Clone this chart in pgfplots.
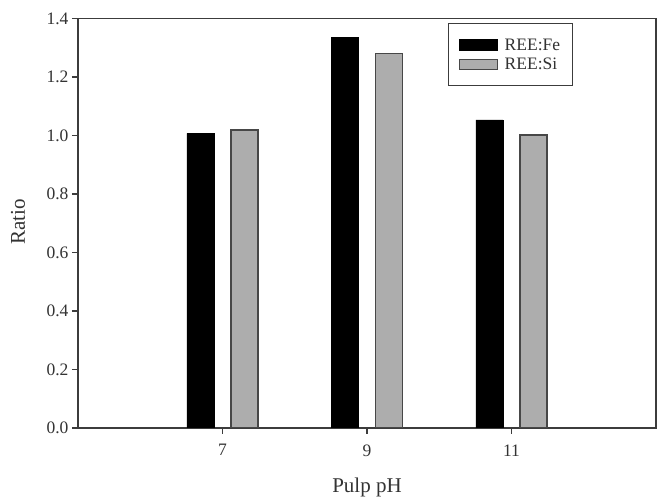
\documentclass[border=0pt]{standalone}
\usepackage{fontspec}
\setmainfont{Liberation Serif}
\usepackage{pgfplots}
\pgfplotsset{compat=1.18}
\definecolor{axisgray}{HTML}{3C3C3C}
\definecolor{barfill}{HTML}{ADADAD}
\definecolor{baredge}{HTML}{474747}
\begin{document}
\begin{tikzpicture}
\path[use as bounding box] (-78pt,-72pt) rectangle (579pt,428pt);
\begin{axis}[
  at={(0pt,0pt)}, anchor=south west,
  scale only axis, width=578pt, height=409.5pt,
  xmin=5, xmax=13, ymin=0, ymax=1.4,
  xtick={7,9,11}, ytick={0,0.2,0.4,0.6,0.8,1.0,1.2,1.4},
  yticklabel style={/pgf/number format/.cd, fixed, fixed zerofill, precision=1},
  /pgf/number format/assume math mode=true,
  axis line style={axisgray, line width=1.3pt},
  tick style={axisgray, line width=1.3pt},
  tick align=outside, major tick length=6pt,
  xtick pos=left, ytick pos=left,
  ybar, bar width=27pt,
  ticklabel style={font=\fontsize{17.5}{20}\selectfont, text=black!80},
  xticklabel style={yshift=-7pt},
  label style={font=\fontsize{21}{24}\selectfont, text=black!80},
  xlabel={Pulp pH}, ylabel={Ratio},
  xlabel style={at={(axis description cs:0.5,-0.1587)}, anchor=base},
  ylabel style={at={(axis description cs:-0.1038,0.503)}, anchor=center},
  legend style={at={(axis description cs:0.640,0.989)}, anchor=north west,
    draw=axisgray, line width=1.2pt, font=\fontsize{17.5}{20}\selectfont, text=black!80,
    inner xsep=10pt, inner ysep=13pt, row sep=2pt, column sep=5pt, cells={anchor=west}},
  legend image code/.code={\draw[#1, line width=1.2pt] (0pt,-5pt) rectangle (38pt,5pt);},
]
\addplot[fill=black, draw=black, bar shift=-22pt] coordinates {(7,1.007) (9,1.336) (11,1.053)};
\addplot[fill=barfill, draw=baredge, line width=1.2pt, bar shift=22pt] coordinates {(7,1.019) (9,1.279) (11,1.002)};
\legend{REE:Fe, REE:Si}
\end{axis}
\end{tikzpicture}
\end{document}
